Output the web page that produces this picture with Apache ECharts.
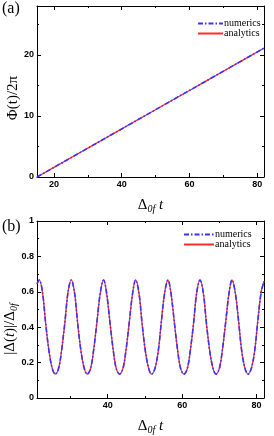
<!DOCTYPE html>
<html><head><meta charset="utf-8">
<script src="https://cdn.jsdelivr.net/npm/echarts@6/dist/echarts.min.js"></script>
<style>html,body{margin:0;padding:0;background:#fff}#c{width:274px;height:436px}</style>
</head><body><div id="c"></div>
<script>
// ---- data ----
const phaseT = [15, 20, 25, 30, 35, 40, 45, 50, 55, 60, 65, 70, 75, 80, 82];
const phaseNumerics = [0, 1.57, 3.15, 4.72, 6.30, 7.87, 9.45, 11.02, 12.6, 14.17, 15.75, 17.32, 18.9, 20.47, 21.1];
const phaseAnalytics = [0, 1.57, 3.15, 4.72, 6.30, 7.87, 9.45, 11.02, 12.6, 14.17, 15.75, 17.32, 18.9, 20.47, 21.1];

const gapT = [21.0,21.6,22.5,23.3,24.2,25.1,25.9,26.8,27.6,28.5,29.3,30.2,31.1,31.9,32.8,33.7,34.5,35.4,36.2,37.1,38.0,38.9,39.7,40.6,41.5,42.3,43.2,44.1,44.9,45.8,46.7,47.5,48.4,49.2,50.1,51.0,51.8,52.7,53.6,54.4,55.3,56.2,57.0,57.9,58.8,59.6,60.5,61.4,62.2,63.1,63.9,64.8,65.7,66.5,67.4,68.3,69.1,70.0,70.8,71.7,72.6,73.4,74.3,75.2,76.0,76.9,77.7,78.6,79.5,80.3,81.2,82.0];
const gapNumerics = [0.645,0.667,0.593,0.428,0.268,0.167,0.135,0.167,0.268,0.428,0.593,0.667,0.593,0.428,0.268,0.167,0.135,0.167,0.268,0.428,0.593,0.667,0.593,0.428,0.268,0.167,0.135,0.167,0.268,0.428,0.593,0.667,0.593,0.428,0.268,0.167,0.135,0.167,0.268,0.428,0.593,0.667,0.593,0.428,0.268,0.167,0.135,0.167,0.268,0.428,0.593,0.667,0.593,0.428,0.268,0.167,0.135,0.167,0.268,0.428,0.593,0.667,0.593,0.428,0.268,0.167,0.135,0.167,0.268,0.428,0.593,0.660];
const gapAnalytics = gapNumerics.slice();

const xMajorA = [20, 40, 60, 80], xMinorA = [30, 50, 70];
const yMajorA = [0, 10, 20], yMinorA = [5, 15, 25];
const xMajorB = [40, 60, 80], xMinorB = [30, 50, 70];
const yMajorB = [0, 0.2, 0.4, 0.6, 0.8, 1], yMinorB = [0.1, 0.3, 0.5, 0.7, 0.9];
const legendNames = ['numerics', 'analytics'];

const RED = '#ff2b2b', BLUE = '#3535ff';
const SANS = 'Liberation Sans', SERIF = 'Liberation Serif';

function axis(kind, grid, pos, min, max, ticks, len, labels, line) {
  return {
    type: 'value', gridIndex: grid, position: pos, min: min, max: max,
    axisLine: { show: line, onZero: false, lineStyle: { color: '#000', width: 1 } },
    axisTick: { show: true, inside: true, length: len, customValues: ticks, lineStyle: { color: '#000', width: 1 } },
    axisLabel: labels ? { show: true, customValues: labels, margin: 3,
      color: '#000', fontFamily: SANS, fontWeight: 'bold', fontSize: 9 } : { show: false },
    splitLine: { show: false }
  };
}
function pairs(xs, ys) { return xs.map((x, i) => [x, ys[i]]); }

const xAxes = [
  axis('x', 0, 'bottom', 15, 82, xMajorA, 4, xMajorA, true),
  axis('x', 0, 'bottom', 15, 82, xMinorA, 2, null, false),
  axis('x', 0, 'top', 15, 82, xMajorA, 4, null, true),
  axis('x', 0, 'top', 15, 82, xMinorA, 2, null, false),
  axis('x', 1, 'bottom', 21, 82, xMajorB, 4, xMajorB, true),
  axis('x', 1, 'bottom', 21, 82, xMinorB, 2, null, false),
  axis('x', 1, 'top', 21, 82, xMajorB, 4, null, true),
  axis('x', 1, 'top', 21, 82, xMinorB, 2, null, false)
];
const yAxes = [
  axis('y', 0, 'left', 0, 28, yMajorA, 4, yMajorA, true),
  axis('y', 0, 'left', 0, 28, yMinorA, 2, null, false),
  axis('y', 0, 'right', 0, 28, yMajorA, 4, null, true),
  axis('y', 0, 'right', 0, 28, yMinorA, 2, null, false),
  axis('y', 1, 'left', 0, 1, yMajorB, 4, yMajorB, true),
  axis('y', 1, 'left', 0, 1, yMinorB, 2, null, false),
  axis('y', 1, 'right', 0, 1, yMajorB, 4, null, true),
  axis('y', 1, 'right', 0, 1, yMinorB, 2, null, false)
];
const xName = {
  name: '{d|Δ}{s|0f}{t| t}', nameLocation: 'middle', nameGap: 19,
  nameTextStyle: { rich: {
    d: { fontFamily: SERIF, fontSize: 15, color: '#000', lineHeight: 18 },
    s: { fontFamily: SERIF, fontStyle: 'italic', fontSize: 10, color: '#000', lineHeight: 18, padding: [8, 0, 0, 0] },
    t: { fontFamily: SERIF, fontStyle: 'italic', fontSize: 15, color: '#000', lineHeight: 18 }
  } }
};
Object.assign(xAxes[0], xName);
Object.assign(xAxes[4], JSON.parse(JSON.stringify(xName)));

function lineSeries(name, xi, yi, xs, ys, color, dash, w, smooth) {
  return {
    name: name, type: 'line', xAxisIndex: xi, yAxisIndex: yi, data: pairs(xs, ys),
    showSymbol: false, symbol: 'none', smooth: smooth,
    lineStyle: { color: color, width: w, type: dash },
    itemStyle: { color: color }, animation: false
  };
}
const dashDot = [5, 2, 1.5, 2];
const series = [
  lineSeries('analytics', 0, 0, phaseT, phaseAnalytics, RED, 'solid', 1.3, false),
  lineSeries('numerics', 0, 0, phaseT, phaseNumerics, BLUE, dashDot, 1.6, false),
  lineSeries('analytics', 4, 4, gapT, gapAnalytics, RED, 'solid', 1.3, 0.35),
  lineSeries('numerics', 4, 4, gapT, gapNumerics, BLUE, dashDot, 1.6, 0.35)
];

function legend(left, top, w, h) {
  return {
    data: legendNames, orient: 'vertical', left: left, top: top,
    itemWidth: w, itemHeight: h, itemGap: 0, padding: 0, selectedMode: false,
    itemStyle: { opacity: 0, borderWidth: 0 },
    textStyle: { fontFamily: SERIF, fontSize: 10, color: '#000', lineHeight: h, padding: [0, 0, 0, -4] }
  };
}

const chart = echarts.init(document.getElementById('c'), null, { renderer: 'canvas' });
chart.setOption({
  animation: false,
  backgroundColor: '#fff',
  grid: [
    { left: 37, top: 6, width: 227, height: 171 },
    { left: 37, top: 221, width: 227, height: 181 }
  ],
  xAxis: xAxes,
  yAxis: yAxes,
  legend: [legend(197, 18.5, 25, 8.3), legend(183, 229.5, 30, 9.7)],
  series: series,
  graphic: [
    { type: 'text', left: 2, top: 1, style: { text: '(a)', font: '16px "Liberation Serif"', fill: '#000' } },
    { type: 'text', left: 2, top: 219, style: { text: '(b)', font: '16px "Liberation Serif"', fill: '#000' } },
    { type: 'text', x: 13, y: 98, rotation: Math.PI / 2,
      style: { text: 'Φ(t)/2π', font: '15px "Liberation Serif"', fill: '#000', align: 'center', verticalAlign: 'middle' } },
    { type: 'text', x: 10, y: 329, rotation: Math.PI / 2,
      style: { text: '{r||Δ(}{i|t}{r|)|/Δ}{s|0f}',
        align: 'center', verticalAlign: 'middle',
        rich: {
          r: { fontFamily: SERIF, fontSize: 15, fill: '#000', lineHeight: 18 },
          i: { fontFamily: SERIF, fontStyle: 'italic', fontSize: 15, fill: '#000', lineHeight: 18 },
          s: { fontFamily: SERIF, fontStyle: 'italic', fontSize: 10, fill: '#000', lineHeight: 18, padding: [8, 0, 0, 0] }
        } } }
  ]
});
</script></body></html>
